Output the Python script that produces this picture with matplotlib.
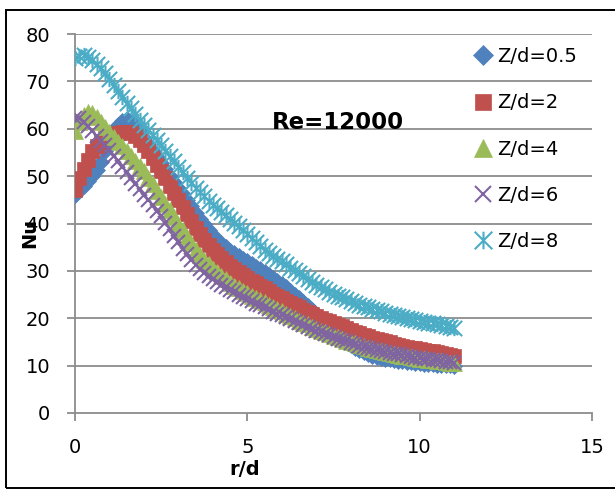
import numpy as np
import matplotlib
matplotlib.use("Agg")
import matplotlib.pyplot as plt
from matplotlib.path import Path
from matplotlib.patches import Rectangle

plt.rcParams["font.family"] = ["DejaVu Sans"]

# Radial stations r/d (step 0.125 from 0 to 11)
r_d = np.round(np.arange(0, 11.0 + 1e-9, 0.125), 3)

nu_z05 = [46.0, 47.0, 48.0, 49.0, 50.0, 51.3, 53.0, 55.2, 57.5, 59.3, 60.8, 61.7, 62.0, 61.6, 60.8, 59.5,
          58.0, 56.7, 55.4, 54.1, 52.8, 51.5, 50.1, 48.8, 47.5, 46.2, 44.9, 43.6, 42.3, 41.0, 39.8, 38.6,
          37.5, 36.6, 35.8, 35.0, 34.3, 33.7, 33.1, 32.5, 32.0, 31.4, 30.9, 30.3, 29.8, 29.2, 28.5, 27.9,
          27.2, 26.5, 25.8, 25.0, 24.3, 23.4, 22.6, 21.7, 20.8, 19.9, 19.0, 18.2, 17.3, 16.5, 15.8, 15.0,
          14.3, 13.7, 13.2, 12.8, 12.4, 12.1, 11.8, 11.6, 11.4, 11.3, 11.1, 11.0, 10.9, 10.8, 10.7, 10.6,
          10.5, 10.4, 10.4, 10.3, 10.2, 10.2, 10.1, 10.1, 10.0]

nu_z2 = [47.0, 49.5, 51.5, 53.5, 55.2, 56.4, 57.3, 58.0, 58.5, 58.9, 59.2, 59.3, 59.3, 59.0, 58.5, 57.6,
         56.5, 55.2, 53.8, 52.4, 51.0, 49.5, 48.0, 46.5, 45.0, 43.5, 42.0, 40.5, 39.0, 37.8, 36.6, 35.5,
         34.5, 33.6, 32.7, 31.8, 31.0, 30.3, 29.7, 29.1, 28.5, 27.9, 27.4, 26.8, 26.3, 25.8, 25.2, 24.7,
         24.2, 23.7, 23.2, 22.8, 22.3, 21.8, 21.4, 20.9, 20.5, 20.1, 19.7, 19.4, 19.0, 18.6, 18.3, 17.9,
         17.5, 17.2, 16.9, 16.5, 16.2, 15.9, 15.6, 15.4, 15.1, 14.9, 14.6, 14.4, 14.2, 14.0, 13.8, 13.7,
         13.5, 13.3, 13.1, 13.0, 12.8, 12.6, 12.4, 12.2, 12.0]

nu_z4 = [59.5, 61.5, 63.0, 63.6, 63.3, 62.5, 61.5, 60.4, 59.3, 58.3, 57.3, 56.3, 55.3, 54.3, 53.2, 52.1,
         51.0, 49.6, 48.3, 46.9, 45.5, 44.1, 42.8, 41.4, 40.0, 38.6, 37.2, 35.8, 34.5, 33.4, 32.4, 31.4,
         30.5, 29.7, 28.9, 28.2, 27.5, 26.9, 26.3, 25.8, 25.3, 24.8, 24.3, 23.9, 23.4, 22.9, 22.4, 22.0,
         21.5, 21.0, 20.5, 20.0, 19.5, 19.1, 18.7, 18.2, 17.8, 17.4, 17.0, 16.7, 16.3, 16.0, 15.6, 15.3,
         15.0, 14.7, 14.4, 14.1, 13.8, 13.6, 13.3, 13.1, 12.9, 12.7, 12.5, 12.3, 12.1, 12.0, 11.8, 11.7,
         11.5, 11.4, 11.2, 11.1, 11.0, 10.9, 10.7, 10.6, 10.5]

nu_z6 = [62.2, 62.3, 61.5, 60.5, 59.5, 58.5, 57.5, 56.5, 55.5, 54.3, 53.2, 52.0, 50.8, 49.6, 48.4, 47.2,
         46.0, 44.9, 43.8, 42.6, 41.5, 40.1, 38.8, 37.4, 36.0, 34.7, 33.5, 32.3, 31.2, 30.4, 29.6, 28.9,
         28.3, 27.7, 27.1, 26.5, 26.0, 25.5, 25.0, 24.5, 24.0, 23.6, 23.1, 22.7, 22.3, 21.9, 21.4, 21.0,
         20.6, 20.2, 19.8, 19.4, 19.0, 18.6, 18.2, 17.8, 17.4, 17.1, 16.7, 16.4, 16.0, 15.7, 15.4, 15.1,
         14.8, 14.5, 14.2, 14.0, 13.7, 13.5, 13.3, 13.1, 12.9, 12.7, 12.5, 12.4, 12.2, 12.0, 11.9, 11.7,
         11.6, 11.5, 11.3, 11.2, 11.1, 11.0, 10.8, 10.7, 10.6]

nu_z8 = [75.0, 75.4, 75.5, 75.1, 74.5, 73.7, 72.8, 71.7, 70.5, 69.3, 68.0, 66.8, 65.5, 64.3, 63.1, 61.9,
         60.8, 59.7, 58.6, 57.6, 56.5, 55.4, 54.3, 53.1, 52.0, 50.9, 49.7, 48.6, 47.5, 46.6, 45.7, 44.8,
         44.0, 43.2, 42.5, 41.8, 41.0, 40.2, 39.4, 38.6, 37.8, 37.0, 36.1, 35.3, 34.5, 33.8, 33.2, 32.6,
         32.0, 31.4, 30.7, 30.1, 29.5, 28.9, 28.2, 27.6, 27.0, 26.5, 26.1, 25.6, 25.2, 24.8, 24.4, 24.0,
         23.6, 23.3, 22.9, 22.6, 22.3, 22.0, 21.7, 21.5, 21.2, 20.9, 20.7, 20.4, 20.2, 20.0, 19.8, 19.6,
         19.4, 19.2, 19.0, 18.9, 18.7, 18.5, 18.3, 18.2, 18.0]

series_labels = ["Z/d=0.5", "Z/d=2", "Z/d=4", "Z/d=6", "Z/d=8"]
x_ticks = [0, 5, 10, 15]
y_ticks = [0, 10, 20, 30, 40, 50, 60, 70, 80]

# asterisk-like marker: an X with a vertical bar through it
star_path = Path([(-0.5, -0.5), (0.5, 0.5), (-0.5, 0.5), (0.5, -0.5), (0, -0.5), (0, 0.5)],
                 [Path.MOVETO, Path.LINETO] * 3)

styles = [
    dict(marker="D", ms=8.5, color="#4F81BD", mec="#4F81BD", mew=0.5),
    dict(marker="s", ms=10.0, color="#C0504D", mec="#C0504D", mew=0.5),
    dict(marker="^", ms=11.0, color="#9BBB59", mec="#9BBB59", mew=0.5),
    dict(marker="x", ms=9.5, color="#8064A2", mec="#8064A2", mew=1.5),
    dict(marker=star_path, ms=11.0, color="#4BACC6", mec="#4BACC6", mew=1.5),
]

W, H = 615, 491
fig = plt.figure(figsize=(W / 100, H / 100), dpi=100)
ax = fig.add_axes([75 / W, 1 - 413 / H, 517 / W, 379 / H])

grid_c = "#8C8C8C"
for yv in y_ticks[1:]:
    ax.axhline(yv, color=grid_c, lw=1.3, zorder=0)

for vals, lab, st in zip([nu_z05, nu_z2, nu_z4, nu_z6, nu_z8], series_labels, styles):
    ax.plot(r_d, vals, ls="none", label=lab, zorder=3, **st)

ax.set_xlim(0, 15)
ax.set_ylim(0, 80)
ax.set_xticks(x_ticks)
ax.set_yticks(y_ticks)
for s in ["top", "right"]:
    ax.spines[s].set_visible(False)
for s in ["left", "bottom"]:
    ax.spines[s].set_color(grid_c)
    ax.spines[s].set_linewidth(1.3)
ax.tick_params(axis="both", direction="out", length=6, width=1.3, color=grid_c,
               labelsize=14, pad=12, labelcolor="black")

ax.set_xlabel("r/d", fontsize=14, fontweight="bold")
ax.xaxis.set_label_coords(0.329, -0.125)
ax.set_ylabel("Nu", fontsize=14, fontweight="bold")
ax.yaxis.set_label_coords(-0.07, 0.475)

ax.text(7.63, 61.4, "Re=12000", fontsize=16.5, fontweight="bold", ha="center", va="center", zorder=4)

ax.legend(loc="upper left", bbox_to_anchor=(0.774, 0.965), frameon=False, fontsize=14,
          markerscale=1.15, handlelength=0.8, handletextpad=0.32, labelspacing=1.40,
          borderpad=0, borderaxespad=0)

# outer frame of the figure
fig.add_artist(Rectangle((6 / W, 1 - 488 / H), 1.2, (488 - 10) / H, transform=fig.transFigure,
                         fill=False, ec="black", lw=1.4))

fig.savefig("out.png", dpi=100)
